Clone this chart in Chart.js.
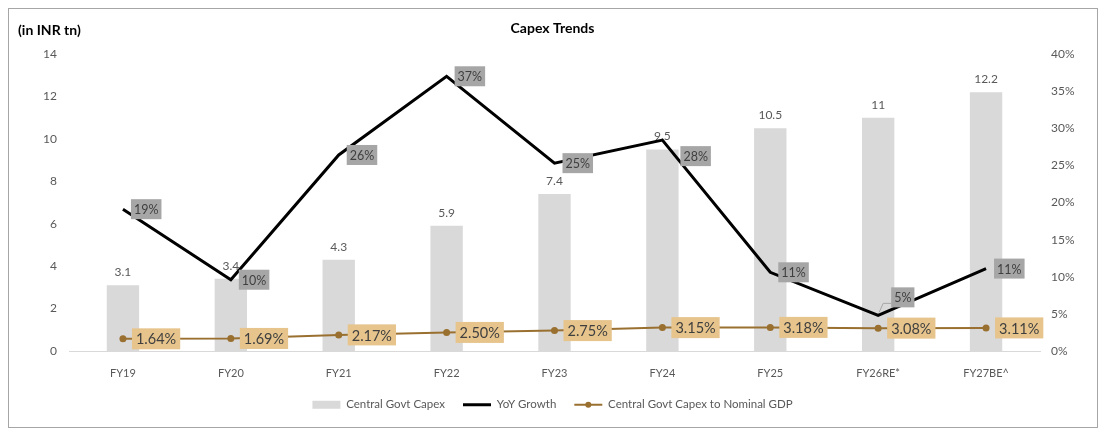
<!DOCTYPE html>
<html>
<head>
<meta charset="utf-8">
<title>Capex Trends</title>
<script src="https://cdn.jsdelivr.net/npm/chart.js@4.4.1/dist/chart.umd.min.js"></script>
<style>
    html, body { margin: 0; padding: 0; background: #ffffff; }
    #wrap { position: relative; width: 1105px; height: 436px; }
    #frame { position: absolute; left: 8px; top: 8px; width: 1088px; height: 418px; border: 1px solid #a6a6a6; }
    #capexChart { position: absolute; left: 0; top: 0; }
</style>
</head>
<body>
<div id="wrap">
    <div id="frame"></div>
    <canvas id="capexChart" width="1105" height="436"></canvas>
</div>
<script>
/* ---- data ---- */
const CATEGORIES = ['FY19', 'FY20', 'FY21', 'FY22', 'FY23', 'FY24', 'FY25', 'FY26RE*', 'FY27BE^'];
const CAPEX = [3.1, 3.4, 4.3, 5.9, 7.4, 9.5, 10.5, 11, 12.2];            // INR tn
const YOY_GROWTH = [19.1, 9.6, 26.4, 37.0, 25.3, 28.4, 10.6, 4.8, 11.1];  // %
const CAPEX_TO_GDP = [1.64, 1.69, 2.17, 2.50, 2.75, 3.15, 3.18, 3.08, 3.11]; // %
const LEFT_TICKS = [0, 2, 4, 6, 8, 10, 12, 14];
const RIGHT_TICKS = [0, 5, 10, 15, 20, 25, 30, 35, 40];

const FONT = 'Lato';
const GREY_TEXT = '#595959';
const BAR_GREY = '#d9d9d9';
const BROWN = '#9a7030';

// label look per dataset index (bar, yoy, gdp)
const LABEL_STYLES = [
    { boxed: false, font: '12px ' + FONT, color: GREY_TEXT, dy: -13 },
    { boxed: true, font: '12.5px ' + FONT, color: '#3f3f3f', bg: '#a6a6a6', dx: 8, padX: 3, h: 20,
      shift: { 5: { dx: 18, dy: 16 }, 7: { dx: 13, dy: -18, leader: true } } },
    { boxed: true, font: '14.5px ' + FONT, color: '#3f3f3f', bg: '#e6c48c', dx: 9, padX: 4, h: 21 }
];

function formatLabel(i, v) {
    if (i === 0) return String(v);
    if (i === 1) return Math.round(v) + '%';
    return v.toFixed(2) + '%';
}

const valueLabels = {
    id: 'valueLabels',
    afterDatasetDraw(chart, args) {
        const st = LABEL_STYLES[args.index];
        if (!st) return;
        const ctx = chart.ctx;
        const data = chart.data.datasets[args.index].data;
        ctx.save();
        ctx.font = st.font;
        ctx.textBaseline = 'middle';
        args.meta.data.forEach((el, j) => {
            const text = formatLabel(args.index, data[j]);
            if (!st.boxed) {
                ctx.textAlign = 'center';
                ctx.fillStyle = st.color;
                ctx.fillText(text, el.x, el.y + st.dy);
                return;
            }
            const sh = (st.shift && st.shift[j]) || {};
            const dx = sh.dx !== undefined ? sh.dx : st.dx;
            const dy = sh.dy || 0;
            const w = ctx.measureText(text).width + st.padX * 2;
            const left = el.x + dx;
            const cy = el.y + dy;
            if (sh.leader) {
                ctx.strokeStyle = '#a6a6a6';
                ctx.lineWidth = 1;
                ctx.beginPath();
                ctx.moveTo(el.x + 1, el.y - 3);
                ctx.lineTo(el.x + 5, cy + st.h / 2 - 4);
                ctx.lineTo(left, cy + st.h / 2 - 4);
                ctx.stroke();
            }
            ctx.fillStyle = st.bg;
            ctx.fillRect(left, cy - st.h / 2, w, st.h);
            ctx.textAlign = 'left';
            ctx.fillStyle = st.color;
            ctx.fillText(text, left + st.padX, cy + 1);
        });
        ctx.restore();
    },
    afterDraw(chart) {
        const ctx = chart.ctx;
        ctx.save();
        // unit caption, top-left
        ctx.font = 'bold 14px ' + FONT;
        ctx.fillStyle = '#000000';
        ctx.textAlign = 'left';
        ctx.textBaseline = 'middle';
        ctx.fillText('(in INR tn)', 18, 30);
        // marker dot on the GDP ratio legend line
        const hb = chart.legend.legendHitBoxes[2];
        if (hb) {
            ctx.fillStyle = BROWN;
            ctx.beginPath();
            ctx.arc(hb.left + 14, hb.top + 11.5 / 2, 3, 0, Math.PI * 2);
            ctx.fill();
        }
        ctx.restore();
    }
};

new Chart(document.getElementById('capexChart'), {
    data: {
        labels: CATEGORIES,
        datasets: [
            {
                type: 'bar',
                label: 'Central Govt Capex',
                data: CAPEX,
                yAxisID: 'y',
                backgroundColor: BAR_GREY,
                borderWidth: 0,
                categoryPercentage: 1,
                barPercentage: 0.3,
                order: 3
            },
            {
                type: 'line',
                label: 'YoY Growth',
                data: YOY_GROWTH,
                yAxisID: 'y1',
                borderColor: '#000000',
                borderWidth: 3,
                pointRadius: 0,
                tension: 0,
                order: 2
            },
            {
                type: 'line',
                label: 'Central Govt Capex to Nominal GDP',
                data: CAPEX_TO_GDP,
                yAxisID: 'y1',
                borderColor: BROWN,
                borderWidth: 2,
                pointRadius: 3.5,
                pointBackgroundColor: BROWN,
                pointBorderWidth: 0,
                tension: 0,
                order: 1
            }
        ]
    },
    options: {
        responsive: false,
        animation: false,
        layout: { padding: { top: 0, right: 0, bottom: 15.5, left: 0 } },
        plugins: {
            title: {
                display: true,
                text: 'Capex Trends',
                color: '#000000',
                font: { family: FONT, size: 14, weight: 'bold' },
                padding: { top: 20, bottom: 17.2 }
            },
            legend: {
                position: 'bottom',
                labels: {
                    color: GREY_TEXT,
                    font: { family: FONT, size: 11.5 },
                    usePointStyle: true,
                    pointStyleWidth: 28,
                    boxHeight: 8,
                    padding: 18,
                    generateLabels: chart => chart.data.datasets.map((ds, i) => ({
                        text: ds.label,
                        fillStyle: ds.type === 'bar' ? ds.backgroundColor : 'rgba(0,0,0,0)',
                        strokeStyle: ds.type === 'bar' ? ds.backgroundColor : ds.borderColor,
                        lineWidth: ds.type === 'bar' ? 0 : ds.borderWidth,
                        pointStyle: ds.type === 'bar' ? 'rect' : 'line',
                        fontColor: GREY_TEXT,
                        hidden: false,
                        datasetIndex: i
                    }))
                }
            },
            tooltip: { enabled: false }
        },
        scales: {
            x: {
                grid: { display: false, drawTicks: false },
                border: { display: true, color: BAR_GREY, width: 1 },
                ticks: {
                    color: GREY_TEXT,
                    font: { family: FONT, size: 11 },
                    padding: 15.4,
                    maxRotation: 0,
                    autoSkip: false
                },
                afterFit: s => { s.height = 30; }
            },
            y: {
                position: 'left',
                min: 0,
                max: 14,
                grid: { display: false, drawTicks: false },
                border: { display: false },
                ticks: { color: GREY_TEXT, font: { family: FONT, size: 12 }, padding: 12 },
                afterBuildTicks: s => { s.ticks = LEFT_TICKS.map(v => ({ value: v })); },
                afterFit: s => { s.width = 69; }
            },
            y1: {
                position: 'right',
                min: 0,
                max: 40,
                grid: { display: false, drawTicks: false },
                border: { display: false },
                ticks: {
                    color: GREY_TEXT,
                    font: { family: FONT, size: 12 },
                    padding: 11,
                    callback: v => v + '%'
                },
                afterBuildTicks: s => { s.ticks = RIGHT_TICKS.map(v => ({ value: v })); },
                afterFit: s => { s.width = 65; }
            }
        }
    },
    plugins: [valueLabels]
});
</script>
</body>
</html>
